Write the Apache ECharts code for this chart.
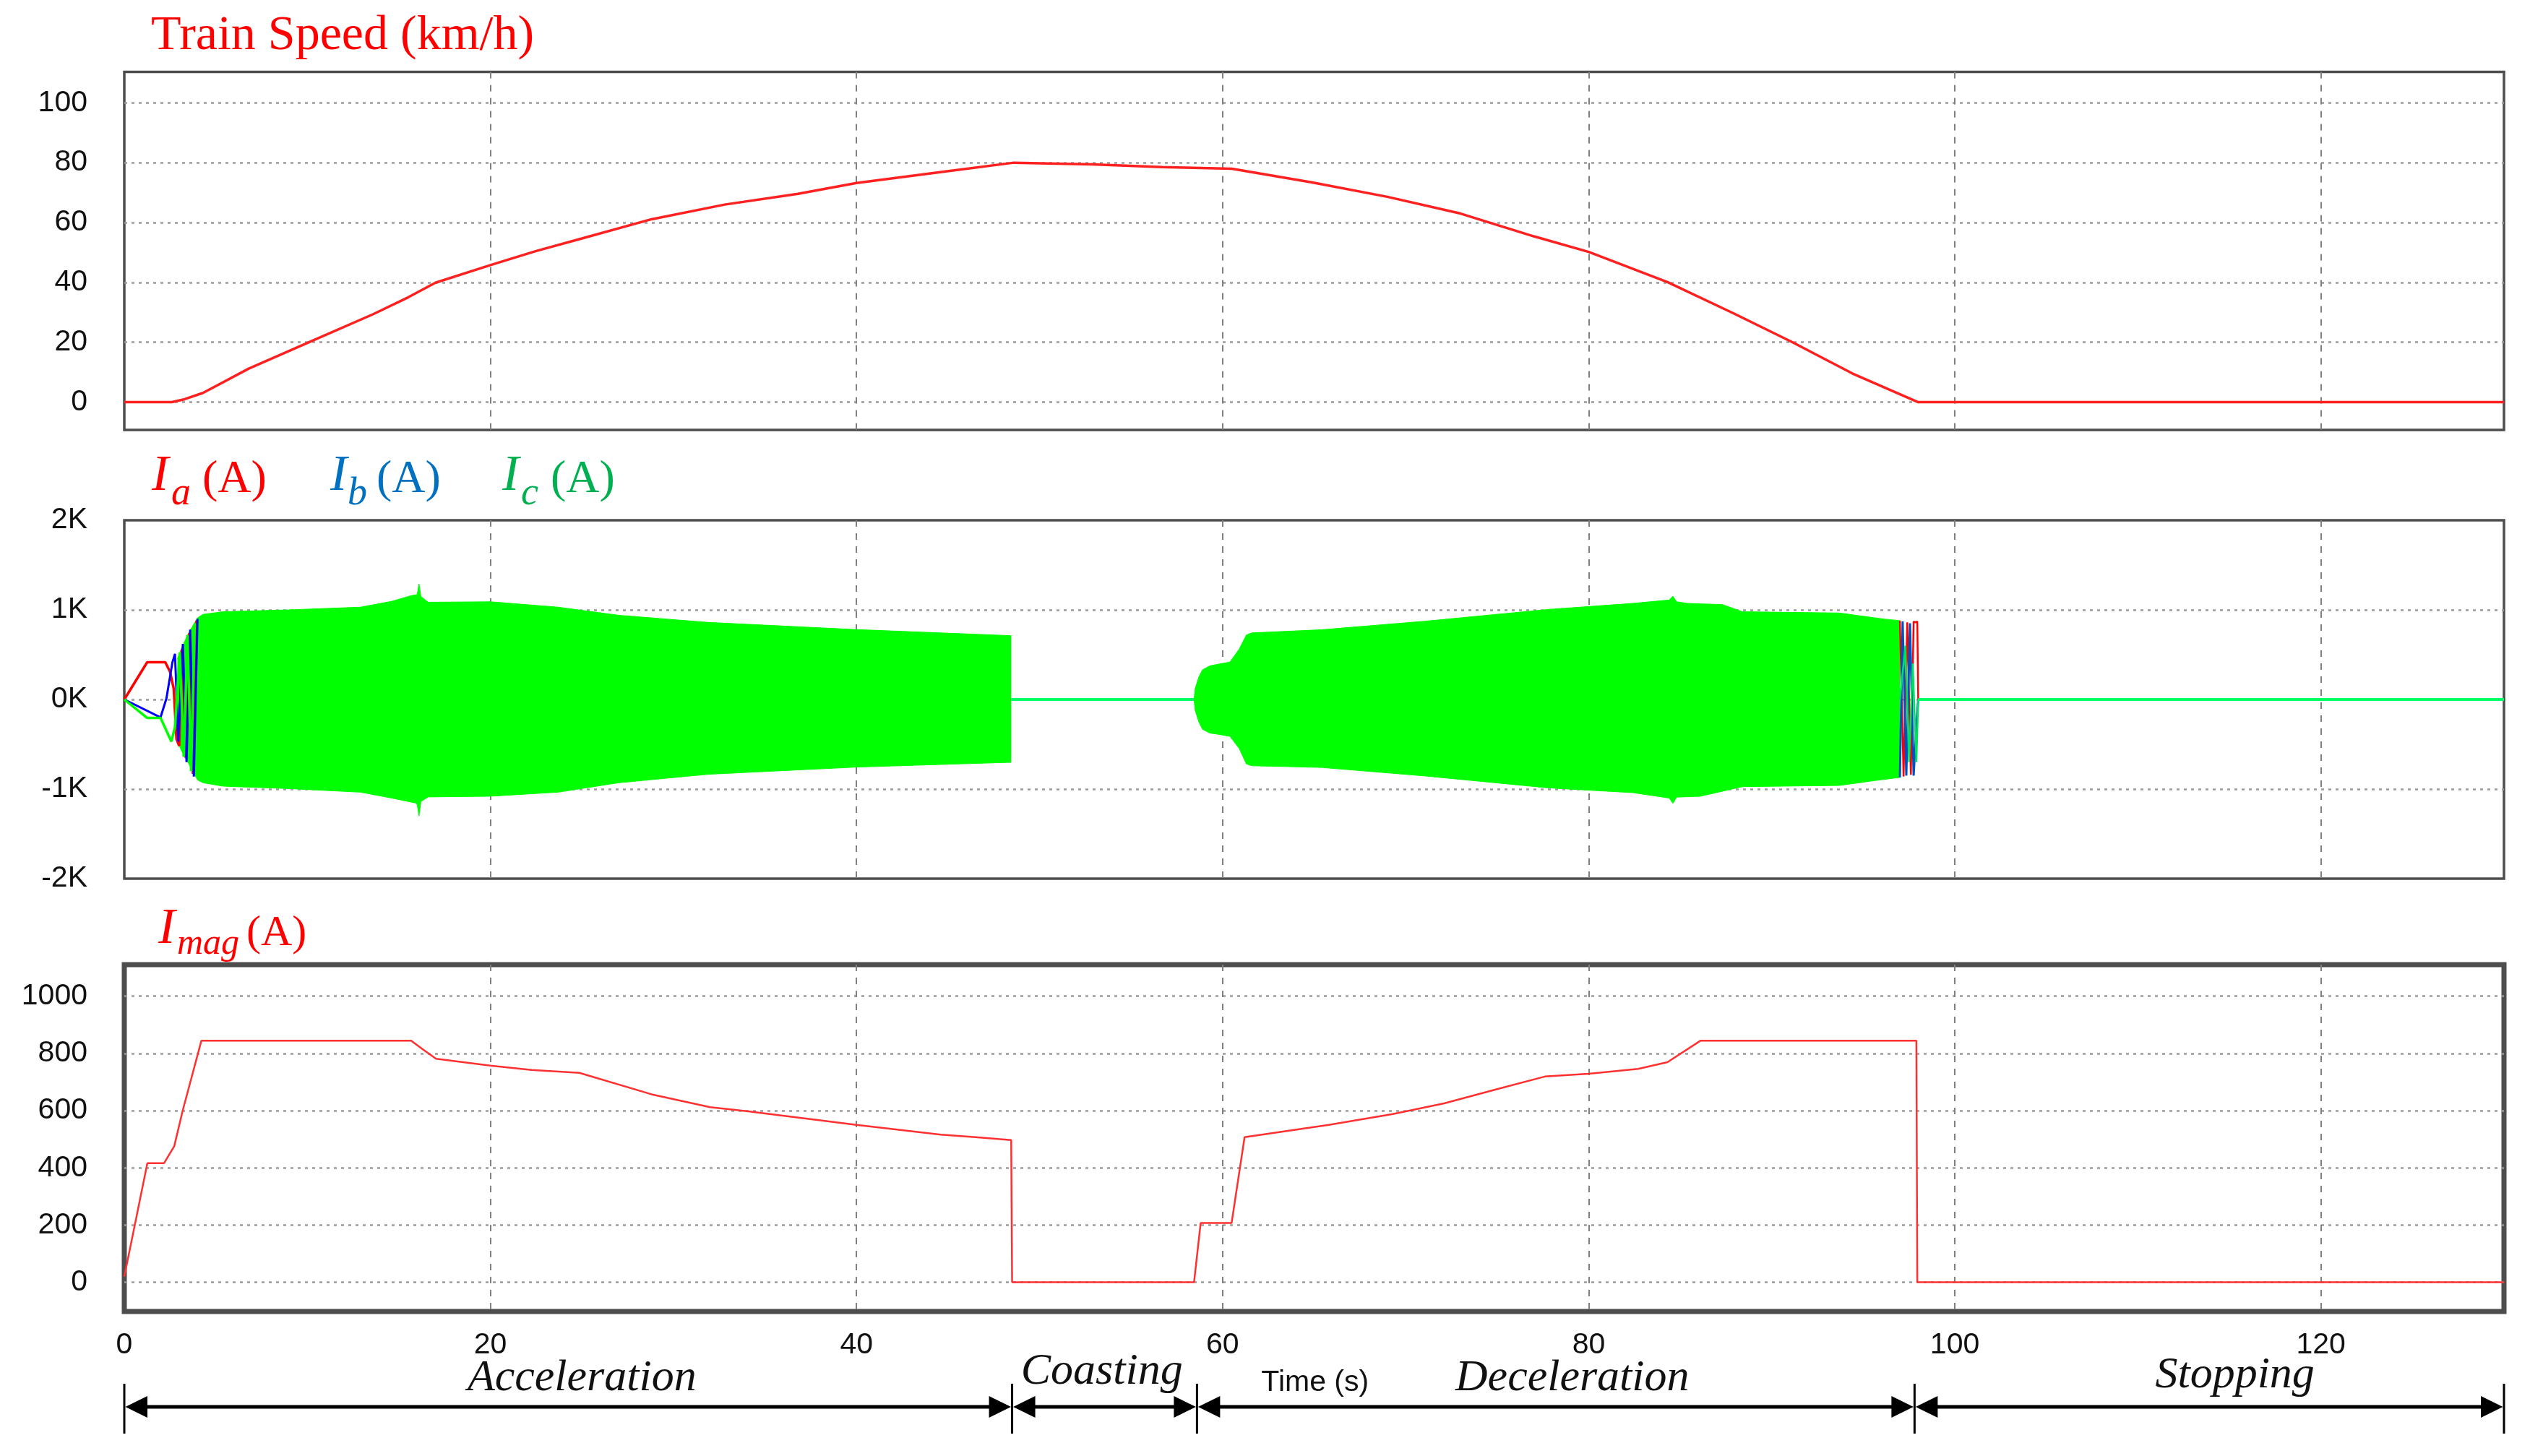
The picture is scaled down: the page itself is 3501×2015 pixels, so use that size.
<!DOCTYPE html>
<html><head><meta charset="utf-8">
<script src="https://cdn.jsdelivr.net/npm/echarts@6/dist/echarts.min.js"></script>
<style>html,body{margin:0;padding:0;background:#fff}#c{width:3501px;height:2015px}</style>
</head><body><div id="c"></div>
<script>
// ---------- tick labels ----------
const timeLabels = [0, 20, 40, 60, 80, 100, 120];
const timeGrid = [20, 40, 60, 80, 100, 120];
const speedTicks = [0, 20, 40, 60, 80, 100];
const phaseLabelTicks = [-2000, -1000, 0, 1000, 2000];
const phaseGridTicks = [-1000, 0, 1000];
const imagTicks = [0, 200, 400, 600, 800, 1000];

// ---------- train speed (km/h) ----------
const speed = [[0,0],[2.6,0],[3.3,1],[4.3,3.1],[6.8,11.2],[10.2,20.3],[13.6,29.4],[15.5,35.0],[17.0,39.9],[20,45.8],[22.5,50.5],[25,54.7],[28.8,61.1],[32.8,66.0],[36.8,69.6],[40,73.2],[44.8,77.0],[48.6,80.0],[52.9,79.4],[56.7,78.5],[60.5,78.0],[64.9,73.4],[69,68.6],[73,63.0],[77,55.4],[80,50.2],[84.3,40.1],[87.9,29.7],[91.1,20.1],[94.4,9.6],[98.0,0],[130,0]];

// ---------- phase currents (A): start-up transients ----------
const iaStart = [[0,0],[1.25,415],[2.24,415],[2.5,308],[2.7,120],[2.85,-440],[3.0,-520],[3.15,560],[3.35,-650],[3.55,740],[3.75,-830],[3.95,880]];
const ibStart = [[0,0],[1.98,-200],[2.3,10],[2.63,415],[2.77,509],[2.95,-470],[3.2,620],[3.4,-700],[3.6,780],[3.8,-860],[4.0,900]];
const icStart = [[0,0],[1.25,-206],[1.98,-206],[2.57,-469],[2.77,-308],[3.03,523],[3.25,-640],[3.45,720],[3.65,-800],[3.85,850]];

// ---------- phase currents: envelope of the dense 3-phase waveform ----------
const accUpper = [[2.9,450],[3.1,560],[3.5,737],[4.0,911],[4.3,950],[5.4,979],[9.0,1000],[12.9,1030],[14.6,1095],[15.7,1160],[16.0,1170],[16.1,1290],[16.2,1150],[16.6,1085],[20,1090],[23.7,1030],[27,940],[31.9,860],[40,780],[48.45,712]];
const accLower = [[2.9,-450],[3.1,-563],[3.5,-710],[4.0,-898],[4.3,-930],[5.4,-968],[9,-995],[12.9,-1035],[14.6,-1100],[15.9,-1155],[16.0,-1170],[16.1,-1300],[16.2,-1140],[16.6,-1088],[20,-1080],[23.7,-1035],[27,-930],[31.9,-835],[40,-755],[48.45,-701]];
const decUpper = [[58.44,0],[58.5,120],[58.7,250],[58.9,330],[59.3,375],[59.8,395],[60.4,417],[60.9,560],[61.3,720],[61.6,743],[65.4,778],[71,872],[77.8,1005],[82.4,1072],[84.4,1110],[84.6,1152],[84.8,1090],[85.4,1072],[87.3,1059],[88.4,979],[93.7,965],[95.6,912],[96.1,898],[97.0,880]];
const decLower = [[58.44,0],[58.5,-120],[58.7,-250],[58.9,-332],[59.3,-375],[59.8,-390],[60.4,-412],[60.9,-545],[61.3,-720],[61.6,-740],[65.4,-759],[71,-853],[77.8,-987],[82.4,-1040],[84.4,-1100],[84.6,-1160],[84.8,-1090],[86.1,-1080],[88.4,-973],[93.7,-960],[95.6,-906],[97.0,-870]];

// ---------- phase currents: stopping transients ----------
const iaEnd = [[97.0,880],[97.2,-860],[97.4,860],[97.6,-840],[97.75,870],[97.85,860],[97.95,870],[98.0,0]];
const ibEnd = [[97.0,-870],[97.15,870],[97.35,-850],[97.55,850],[97.75,-850],[97.9,-300],[98.0,0]];
const icEnd = [[97.0,0],[97.3,600],[97.5,-700],[97.7,400],[97.9,-700],[98.0,0]];
const zeroCoast = [[48.45,0],[58.44,0]];
const zeroStop = [[98.0,0],[130,0]];

// ---------- magnetising current (A) ----------
const imag = [[0,20],[1.26,416],[2.17,416],[2.73,476],[3.19,600],[4.21,844],[15.67,844],[16.35,812],[17.03,781],[20,757],[22.25,742],[24.86,732],[28.8,657],[32,612],[34,598],[40,550],[44.6,516],[46.5,507],[48.45,497],[48.5,0],[58.44,0],[58.8,207],[60.49,207],[61.2,507],[65.8,550],[69.3,588],[72.1,625],[75,675],[77.6,719],[80,729],[82.7,746],[84.3,769],[86.1,844],[97.9,844],[97.95,0],[130,0]];

// ---------- operating phases ----------
const phaseBounds = [0, 48.5, 58.6, 97.8, 130];
const phaseNames = ['Acceleration', 'Coasting', 'Deceleration', 'Stopping'];
const phaseLabelTimes = [25.0, 53.4, 79.1, 115.3];
const phaseLabelY = [1908, 1899, 1908, 1904];

const SANS = '"Liberation Sans", Arial, sans-serif';
const SERIF = '"Liberation Serif", "Times New Roman", serif';
const labelStyle = { fontFamily: SANS, fontSize: 41, color: '#111' };
const hGrid = { show: true, lineStyle: { color: '#9a9a9a', width: 2.5, type: [4, 6] } };
const vGrid = { show: true, lineStyle: { color: '#808080', width: 2, type: [9, 9] } };

function xAxis(gi, showLabels) {
  return {
    type: 'value', gridIndex: gi, min: 0, max: 130,
    axisLine: { show: false },
    axisTick: { show: false, customValues: timeGrid },
    axisLabel: Object.assign({ show: showLabels, margin: 26, customValues: timeLabels }, labelStyle),
    splitLine: vGrid
  };
}
function yAxis(gi, min, max, gridVals, labelVals, fmt) {
  return {
    type: 'value', gridIndex: gi, min: min, max: max,
    axisLine: { show: false },
    axisTick: { show: false, customValues: gridVals },
    axisLabel: Object.assign({ margin: 51, customValues: labelVals, formatter: fmt }, labelStyle),
    splitLine: hGrid
  };
}
function line(data, xi, color, width, z) {
  return { type: 'line', data: data, xAxisIndex: xi, yAxisIndex: xi, showSymbol: false, symbol: 'none',
    lineStyle: { color: color, width: width }, z: z || 3, animation: false };
}
function band(data) {
  return { type: 'line', data: data, xAxisIndex: 1, yAxisIndex: 1, showSymbol: false, symbol: 'none',
    lineStyle: { color: '#00ff00', width: 1 }, areaStyle: { color: '#00ff00', opacity: 1, origin: 'auto' }, z: 2, animation: false };
}

const titleTexts = [
  { type: 'text', x: 209, y: 50, style: { text: 'Train Speed (km/h)', font: '68px ' + SERIF, fill: '#ff0000', verticalAlign: 'middle' } },
  // I_a (A)
  { type: 'text', x: 210, y: 660, style: { text: 'I', font: 'italic 70px ' + SERIF, fill: '#ff0000', verticalAlign: 'middle' } },
  { type: 'text', x: 237, y: 684, style: { text: 'a', font: 'italic 54px ' + SERIF, fill: '#ff0000', verticalAlign: 'middle' } },
  { type: 'text', x: 280, y: 664, style: { text: '(A)', font: '64px ' + SERIF, fill: '#ff0000', verticalAlign: 'middle' } },
  // I_b (A)
  { type: 'text', x: 457, y: 660, style: { text: 'I', font: 'italic 70px ' + SERIF, fill: '#0070c0', verticalAlign: 'middle' } },
  { type: 'text', x: 481, y: 684, style: { text: 'b', font: 'italic 54px ' + SERIF, fill: '#0070c0', verticalAlign: 'middle' } },
  { type: 'text', x: 521, y: 664, style: { text: '(A)', font: '64px ' + SERIF, fill: '#0070c0', verticalAlign: 'middle' } },
  // I_c (A)
  { type: 'text', x: 695, y: 660, style: { text: 'I', font: 'italic 70px ' + SERIF, fill: '#00b050', verticalAlign: 'middle' } },
  { type: 'text', x: 721, y: 684, style: { text: 'c', font: 'italic 54px ' + SERIF, fill: '#00b050', verticalAlign: 'middle' } },
  { type: 'text', x: 762, y: 664, style: { text: '(A)', font: '64px ' + SERIF, fill: '#00b050', verticalAlign: 'middle' } },
  // I_mag (A)
  { type: 'text', x: 219, y: 1287, style: { text: 'I', font: 'italic 70px ' + SERIF, fill: '#ff0000', verticalAlign: 'middle' } },
  { type: 'text', x: 245, y: 1307, style: { text: 'mag', font: 'italic 50px ' + SERIF, fill: '#ff0000', verticalAlign: 'middle' } },
  { type: 'text', x: 341, y: 1292, style: { text: '(A)', font: '60px ' + SERIF, fill: '#ff0000', verticalAlign: 'middle' } }
];

const option = {
  animation: false,
  backgroundColor: '#ffffff',
  grid: [
    { left: 172, right: 36, top: 99.6, height: 495.5, show: true, borderColor: '#4d4d4d', borderWidth: 3.5, backgroundColor: 'transparent' },
    { left: 172, right: 36, top: 720, height: 496, show: true, borderColor: '#4d4d4d', borderWidth: 3.5, backgroundColor: 'transparent' },
    { left: 172, right: 36, top: 1335, height: 480, show: true, borderColor: '#4d4d4d', borderWidth: 7, backgroundColor: 'transparent' }
  ],
  xAxis: [xAxis(0, false), xAxis(1, false), xAxis(2, true)],
  yAxis: [
    yAxis(0, -9.3, 110.3, speedTicks, speedTicks, v => String(v)),
    yAxis(1, -2000, 2000, phaseGridTicks, phaseLabelTicks, v => (v / 1000) + 'K'),
    yAxis(2, -102, 1110, imagTicks, imagTicks, v => String(v))
  ],
  series: [
    line(speed, 0, '#ff2020', 3.5),
    band(accUpper), band(accLower), band(decUpper), band(decLower),
    line(iaStart, 1, '#ff0000', 3.5, 4), line(ibStart, 1, '#0000ff', 3, 4), line(icStart, 1, '#00ff00', 3.5, 5),
    line(iaEnd, 1, '#ff0000', 2.5, 4), line(ibEnd, 1, '#0050c0', 3, 4), line(icEnd, 1, '#00e060', 2.5, 4),
    line(zeroCoast, 1, '#00ff60', 4, 4), line(zeroStop, 1, '#00ff60', 4, 4),
    line(imag, 2, '#ff3030', 2.5)
  ],
  graphic: titleTexts
};

const chart = echarts.init(document.getElementById('c'), null, { renderer: 'canvas' });
chart.setOption(option);

// ---------- phase arrows under the time axis ----------
const ARROW_Y = 1947, BAR_TOP = 1915, BAR_BOT = 1984, HEAD_L = 32, HEAD_H = 15;
const px = t => chart.convertToPixel({ xAxisIndex: 2 }, t);
const extra = [];
phaseBounds.forEach(t => {
  const x = px(t);
  extra.push({ type: 'line', shape: { x1: x, y1: BAR_TOP, x2: x, y2: BAR_BOT }, style: { stroke: '#000', lineWidth: 3 } });
});
for (let i = 0; i < phaseNames.length; i++) {
  const a = px(phaseBounds[i]), b = px(phaseBounds[i + 1]);
  extra.push({ type: 'line', shape: { x1: a + HEAD_L - 2, y1: ARROW_Y, x2: b - HEAD_L + 2, y2: ARROW_Y }, style: { stroke: '#000', lineWidth: 5 } });
  extra.push({ type: 'polygon', shape: { points: [[a + 1.5, ARROW_Y], [a + HEAD_L, ARROW_Y - HEAD_H], [a + HEAD_L, ARROW_Y + HEAD_H]] }, style: { fill: '#000' } });
  extra.push({ type: 'polygon', shape: { points: [[b - 1.5, ARROW_Y], [b - HEAD_L, ARROW_Y - HEAD_H], [b - HEAD_L, ARROW_Y + HEAD_H]] }, style: { fill: '#000' } });
  extra.push({ type: 'text', x: px(phaseLabelTimes[i]), y: phaseLabelY[i],
    style: { text: phaseNames[i], font: 'italic 62px ' + SERIF, fill: '#111', align: 'center', verticalAlign: 'middle' } });
}
extra.push({ type: 'text', x: px(65.05), y: 1914, style: { text: 'Time (s)', font: '41px ' + SANS, fill: '#111', align: 'center', verticalAlign: 'middle' } });

chart.setOption({ graphic: titleTexts.concat(extra) });
</script>
</body></html>
